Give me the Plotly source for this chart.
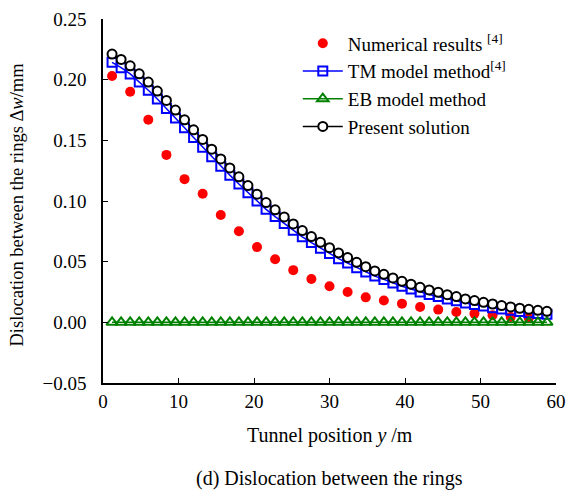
import plotly.graph_objects as go

# Data
y_fine = [1.2, 2.4, 3.6, 4.8, 6.0, 7.2, 8.4, 9.6, 10.8, 12.0, 13.2, 14.4, 15.6, 16.8, 18.0, 19.2,
          20.4, 21.6, 22.8, 24.0, 25.2, 26.4, 27.6, 28.8, 30.0, 31.2, 32.4, 33.6, 34.8, 36.0,
          37.2, 38.4, 39.6, 40.8, 42.0, 43.2, 44.4, 45.6, 46.8, 48.0, 49.2, 50.4, 51.6, 52.8,
          54.0, 55.2, 56.4, 57.6, 58.8]

present = [0.2211, 0.2167, 0.2114, 0.2048, 0.1980, 0.1906, 0.1829, 0.1749, 0.1669, 0.1587,
           0.1507, 0.1427, 0.1347, 0.1273, 0.1199, 0.1127, 0.1056, 0.0987, 0.0927, 0.0869,
           0.0811, 0.0756, 0.0707, 0.0660, 0.0615, 0.0572, 0.0534, 0.0495, 0.0459, 0.0424,
           0.0396, 0.0366, 0.0338, 0.0314, 0.0289, 0.0267, 0.0248, 0.0228, 0.0212, 0.0193,
           0.0179, 0.0165, 0.0151, 0.0138, 0.0127, 0.0116, 0.0107, 0.0099, 0.0091]

tm_model = [0.2143, 0.2099, 0.2047, 0.1981, 0.1913, 0.1840, 0.1763, 0.1684, 0.1604, 0.1523,
            0.1444, 0.1365, 0.1286, 0.1213, 0.1140, 0.1069, 0.0999, 0.0931, 0.0872, 0.0815,
            0.0758, 0.0705, 0.0657, 0.0611, 0.0567, 0.0525, 0.0488, 0.0450, 0.0415, 0.0381,
            0.0354, 0.0325, 0.0298, 0.0275, 0.0251, 0.0230, 0.0212, 0.0193, 0.0178, 0.0160,
            0.0147, 0.0134, 0.0121, 0.0109, 0.0099, 0.0089, 0.0080, 0.0073, 0.0066]

eb_model = [0.0] * 49

y_num = [1.2, 3.6, 6.0, 8.4, 10.8, 13.2, 15.6, 18.0, 20.4, 22.8, 25.2, 27.6, 30.0, 32.4,
         34.8, 37.2, 39.6, 42.0, 44.4, 46.8, 49.2, 51.6, 54.0, 56.4]
numerical = [0.203, 0.190, 0.167, 0.138, 0.118, 0.106, 0.0885, 0.075, 0.062, 0.052, 0.043,
             0.0357, 0.0298, 0.025, 0.0206, 0.018, 0.0154, 0.0126, 0.0105, 0.0085, 0.0072,
             0.0058, 0.0044, 0.0036]

x_ticks = [0, 10, 20, 30, 40, 50, 60]
y_ticks = [-0.05, 0.00, 0.05, 0.10, 0.15, 0.20, 0.25]

FONT = "Liberation Serif"

fig = go.Figure()
fig.add_trace(go.Scatter(
    x=y_num, y=numerical, mode="markers", name="Numerical results <sup>[4]</sup>",
    marker=dict(symbol="circle", size=10, color="#ff0000", line=dict(width=0))))
fig.add_trace(go.Scatter(
    x=y_fine, y=tm_model, mode="lines+markers", name="TM model method<sup>[4]</sup>",
    line=dict(color="#0000ff", width=1.5),
    marker=dict(symbol="square-open", size=9, color="#0000ff", line=dict(width=2))))
fig.add_trace(go.Scatter(
    x=y_fine, y=eb_model, mode="lines+markers", name="EB model method",
    line=dict(color="#008000", width=1.5),
    marker=dict(symbol="triangle-up-open", size=10, color="#008000", line=dict(width=2))))
fig.add_trace(go.Scatter(
    x=y_fine, y=present, mode="lines+markers", name="Present solution",
    line=dict(color="#000000", width=1.5),
    marker=dict(symbol="circle", size=9, color="#ffffff", line=dict(width=2, color="#000000"))))

fig.update_layout(
    width=574, height=493,
    margin=dict(l=103, r=18, t=19, b=110),
    paper_bgcolor="white", plot_bgcolor="white",
    font=dict(family=FONT, size=19, color="black"),
    showlegend=True,
    legend=dict(x=0.43, y=0.985, xanchor="left", yanchor="top",
                bgcolor="rgba(0,0,0,0)", font=dict(family=FONT, size=19),
                itemwidth=40, tracegroupgap=0),
    xaxis=dict(range=[0, 60], tickvals=x_ticks, ticks="inside", ticklen=5,
               showline=True, linecolor="black", linewidth=1.5, tickcolor="black",
               showgrid=False, zeroline=False, tickfont=dict(size=19, family=FONT),
               automargin=False),
    yaxis=dict(range=[-0.05, 0.25], tickvals=y_ticks, tickformat=".2f", ticks="inside",
               ticklen=5, showline=True, linecolor="black", linewidth=1.5, tickcolor="black",
               showgrid=False, zeroline=False, tickfont=dict(size=19, family=FONT),
               ticklabelstandoff=11, automargin=False),
)

# Axis titles and caption
fig.add_annotation(text="Tunnel position <i>y</i> /m", xref="paper", yref="paper",
                   x=0.5, y=-0.143, xanchor="center", yanchor="middle", showarrow=False,
                   font=dict(size=20, family=FONT))
fig.add_annotation(text="Dislocation between the rings Δ<i>w</i>/mm", xref="paper", yref="paper",
                   x=-0.19, y=0.49, xanchor="center", yanchor="middle", showarrow=False,
                   textangle=-90, font=dict(size=18.5, family=FONT))
fig.add_annotation(text="(d) Dislocation between the rings", xref="paper", yref="paper",
                   x=0.5, y=-0.262, xanchor="center", yanchor="middle", showarrow=False,
                   font=dict(size=20, family=FONT))

fig.write_html("out.html")
